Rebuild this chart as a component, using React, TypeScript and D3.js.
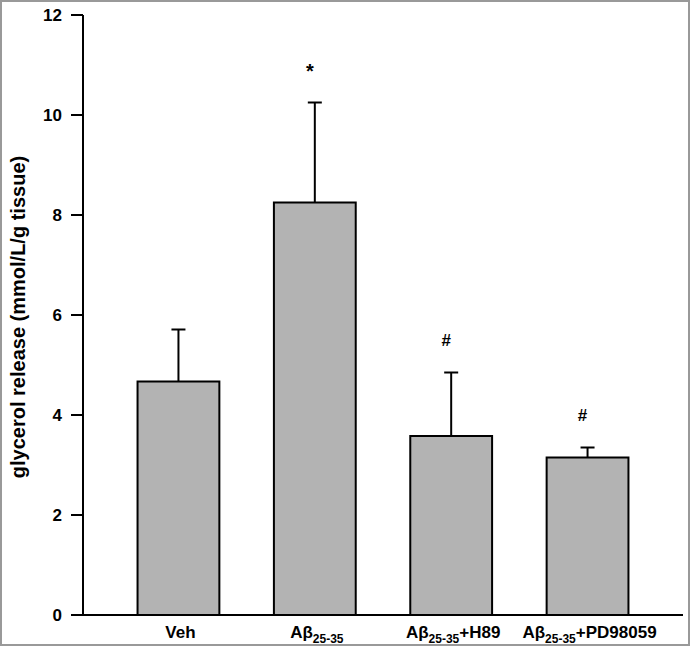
import React from "react";
import * as d3 from "d3";

const categories = ["Veh", "Ab", "AbH89", "AbPD"];
const means = [4.67, 8.25, 3.58, 3.15];
const errors = [1.04, 2.0, 1.27, 0.2];
const marks = ["", "*", "#", "#"];
const yTicks = [0, 2, 4, 6, 8, 10, 12];

const W = 690;
const H = 647;

export default function App() {
  const x = d3
    .scaleBand<string>()
    .domain(categories)
    .range([83, 683])
    .paddingInner(0.4)
    .paddingOuter(0.4);
  const y = d3.scaleLinear().domain([0, 12]).range([615, 15]);
  const font = "Arial, 'Liberation Sans', Helvetica, sans-serif";

  const label = (c: string) => {
    if (c === "Veh") return <tspan>Veh</tspan>;
    const suffix = c === "AbH89" ? "+H89" : c === "AbPD" ? "+PD98059" : "";
    return (
      <>
        <tspan>Aβ</tspan>
        <tspan fontSize={12} dy={5}>25-35</tspan>
        {suffix && <tspan dy={-5}>{suffix}</tspan>}
      </>
    );
  };

  return (
    <svg
      width={W}
      height={H}
      style={{ position: "absolute", left: 0, top: 0, background: "#fff" }}
      fontFamily={font}
    >
      <rect x={1} y={1} width={W - 2} height={H - 3} fill="#fff" stroke="#999" strokeWidth={2} />
      {categories.map((c, i) => {
        const bx = x(c)!;
        const bw = x.bandwidth();
        const cx = bx + bw / 2;
        const top = y(means[i]);
        const et = y(means[i] + errors[i]);
        return (
          <g key={c}>
            <line x1={cx} x2={cx} y1={top} y2={et} stroke="#000" strokeWidth={2} />
            <line x1={cx - 7} x2={cx + 7} y1={et} y2={et} stroke="#000" strokeWidth={2} />
            <rect x={bx} y={top} width={bw} height={y(0) - top} fill="#b3b3b3" stroke="#000" strokeWidth={2} />
            {marks[i] && (
              <text
                x={cx - 5}
                y={et - (marks[i] === "*" ? 30 : 31)}
                textAnchor="middle"
                fontWeight="bold"
                fontSize={marks[i] === "*" ? 20 : 17}
                dominantBaseline="middle"
              >
                {marks[i]}
              </text>
            )}
            <text x={cx + 2} y={638} textAnchor="middle" fontWeight="bold" fontSize={17}>
              {label(c)}
            </text>
          </g>
        );
      })}
      <line x1={83} x2={83} y1={y(12)} y2={y(0)} stroke="#000" strokeWidth={2} />
      <line x1={71} x2={683} y1={y(0)} y2={y(0)} stroke="#000" strokeWidth={2} />
      {yTicks.map((t) => (
        <g key={t}>
          <line x1={71} x2={83} y1={y(t)} y2={y(t)} stroke="#000" strokeWidth={2} />
          <text x={62} y={y(t)} textAnchor="end" dominantBaseline="central" fontWeight="bold" fontSize={17}>
            {t}
          </text>
        </g>
      ))}
      <text
        transform={`translate(18,317) rotate(-90)`}
        textAnchor="middle"
        dominantBaseline="central"
        fontWeight="bold"
        fontSize={20}
      >
        glycerol release (mmol/L/g tissue)
      </text>
    </svg>
  );
}
